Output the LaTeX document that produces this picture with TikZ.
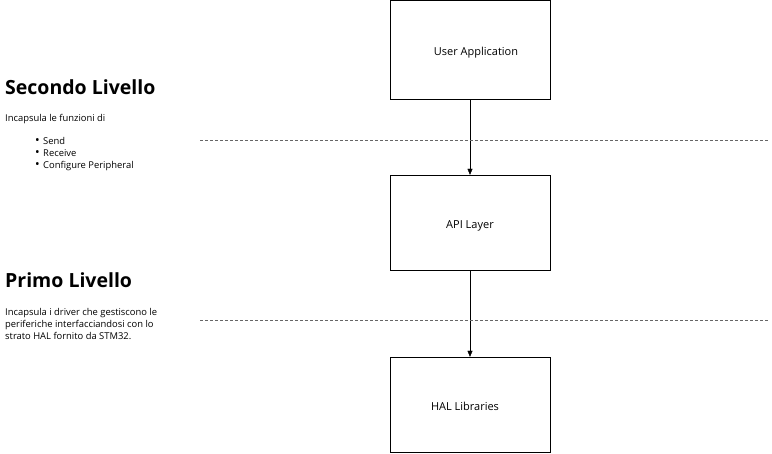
\documentclass[tikz,border=0pt]{standalone}
\usepackage{fontspec}
\setmainfont{Open Sans}
\usetikzlibrary{arrows.meta}
\usetikzlibrary{positioning}

\newcommand{\listdot}{\makebox[8pt][l]{\scalebox{1.3}{\textbullet}}}

\tikzset{
  layerbox/.style = {draw, black, thin, minimum width = 160pt, minimum height = 95pt, inner sep = 0pt, font = \fontsize{11}{13}\selectfont},
  flow/.style = {-{Triangle[length = 6pt, width = 5pt]}, black, thin},
  levelline/.style = {gray!80!black, thin, dash pattern = on 3pt off 2pt},
  headtext/.style = {anchor = base west, inner sep = 0pt, font = \fontsize{19.5}{22}\selectfont\bfseries},
  smalltext/.style = {anchor = base west, inner sep = 0pt, font = \fontsize{9.4}{12}\selectfont, align = left}
}

\begin{document}
\begin{tikzpicture}[x = 1pt, y = -1pt]
                \useasboundingbox (0,0) rectangle (772,454);
                % boxes
                \node[layerbox, minimum height = 99pt] (user) at (470,50) {\raisebox{-6pt}[0pt][0pt]{\hspace{12pt}User Application}};
                \node[layerbox] (api) at (470,222.5) {\raisebox{-6pt}[0pt][0pt]{API Layer}};
                \node[layerbox] (hal) at (470,404.5) {\raisebox{-6pt}[0pt][0pt]{HAL Libraries\hspace{10pt}}};
                \draw[flow] (user.south) -- (api.north);
                \draw[flow] (api.south) -- (hal.north);
                % level separators
                \coordinate (sepa) at (200,140);
                \coordinate (sepb) at (768,140);
                \coordinate (sepc) at (200,320);
                \coordinate (sepd) at (768,320);
                \draw[levelline] (sepa) -- (sepb);
                \draw[levelline] (sepc) -- (sepd);
                % descriptions
                \node[headtext] (second) at (5,95) {Secondo Livello};
                \node[smalltext] (secdesc) at (5,122) {Incapsula le funzioni di};
                \node[smalltext] (itema) at (35,145) {\listdot Send};
                \node[smalltext] (itemb) at (35,157) {\listdot Receive};
                \node[smalltext] (itemc) at (35,169) {\listdot Configure Peripheral};
                \node[headtext] (first) at (5,288) {Primo Livello};
                \node[smalltext, anchor = north west] (firstdesc) at (5,308) {Incapsula i driver che gestiscono le\\periferiche interfacciandosi con lo\\strato HAL fornito da STM32.};
\end{tikzpicture}
\end{document}
